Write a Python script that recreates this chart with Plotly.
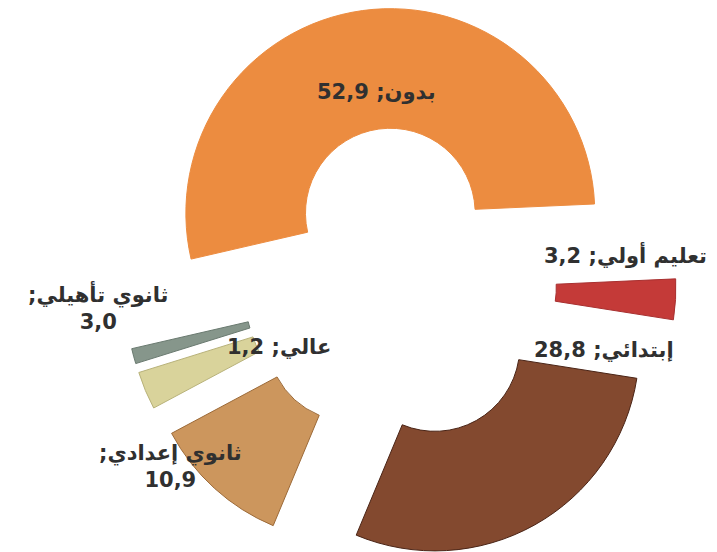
import plotly.graph_objects as go

categories = ["بدون", "تعليم أولي", "إبتدائي", "ثانوي إعدادي", "ثانوي تأهيلي", "عالي"]
values = [52.9, 3.2, 28.8, 10.9, 3.0, 1.2]
colors = ["#EC8C40", "#C43A38", "#83492F", "#CC965D", "#D9D39B", "#86968B"]
edge_colors = ["#EC8C40", "#A83030", "#4A2416", "#9C6A38", "#B8B27A", "#6A7A70"]

# label layout: (x px, y px, split into two lines)
label_pos = [(369, 84, False), (617, 246, False), (596, 342, False),
             (162, 458, True), (90, 299, True), (271, 339, False)]

W, H = 717, 552

def fmt(v):
    return f"{v:.1f}".replace(".", ",")

RLE, PDF = "\u202B", "\u202C"

fig = go.Figure(go.Pie(
    values=values,
    labels=categories,
    sort=False,
    direction="clockwise",
    rotation=-103,
    hole=0.415,
    pull=[0.35] * len(values),
    marker=dict(colors=colors, line=dict(width=1, color=edge_colors)),
    textinfo="none",
    hoverinfo="skip",
    domain=dict(x=[67 / W, 1], y=[0, 1]),
))

for cat, v, (px, py, two) in zip(categories, values, label_pos):
    if two:
        text = RLE + cat + ";" + PDF + "<br>" + fmt(v)
    else:
        text = RLE + cat + "; " + fmt(v) + PDF
    fig.add_annotation(
        x=px / W, y=1 - py / H, xref="paper", yref="paper",
        text="<b>" + text + "</b>", showarrow=False,
        xanchor="center", yanchor="middle", align="center",
        font=dict(family="DejaVu Sans", size=21, color="#303030"),
    )

fig.update_layout(
    width=W, height=H,
    margin=dict(l=0, r=0, t=0, b=0),
    showlegend=False,
    paper_bgcolor="white",
    plot_bgcolor="white",
)

fig.write_html("out.html")
